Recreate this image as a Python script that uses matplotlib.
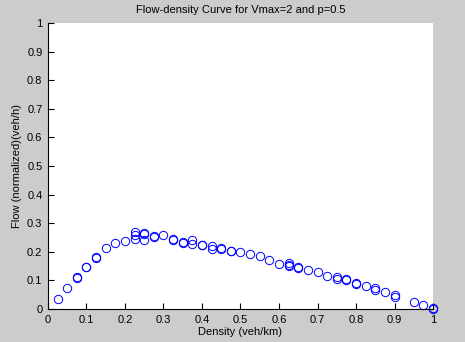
import matplotlib
matplotlib.use("Agg")
from matplotlib import pyplot as plt

# simulated flow vs. density, several runs overlaid
density = [0.025, 0.05, 0.075, 0.075, 0.1, 0.1, 0.125, 0.125, 0.15, 0.175,
           0.2, 0.225, 0.225, 0.225, 0.25, 0.25, 0.25, 0.275, 0.275, 0.3,
           0.325, 0.325, 0.35, 0.35, 0.375, 0.375, 0.4, 0.4, 0.425, 0.425,
           0.45, 0.45, 0.475, 0.475, 0.5, 0.525, 0.55, 0.575, 0.6, 0.625,
           0.625, 0.625, 0.65, 0.65, 0.675, 0.7, 0.725, 0.75, 0.75, 0.775,
           0.775, 0.8, 0.8, 0.825, 0.85, 0.85, 0.875, 0.9, 0.9, 0.95,
           0.975, 1.0, 1.0]
flow = [0.035, 0.074, 0.110, 0.112, 0.146, 0.148, 0.180, 0.182, 0.213, 0.230,
        0.239, 0.271, 0.258, 0.246, 0.266, 0.261, 0.240, 0.252, 0.255, 0.260,
        0.246, 0.243, 0.236, 0.231, 0.240, 0.229, 0.225, 0.223, 0.222, 0.209,
        0.213, 0.209, 0.204, 0.202, 0.199, 0.193, 0.185, 0.173, 0.159, 0.161,
        0.150, 0.155, 0.145, 0.147, 0.135, 0.129, 0.117, 0.111, 0.104, 0.102,
        0.104, 0.091, 0.087, 0.082, 0.075, 0.066, 0.060, 0.048, 0.043, 0.025,
        0.013, 0.001, 0.003]

xticks = [0, 0.1, 0.2, 0.3, 0.4, 0.5, 0.6, 0.7, 0.8, 0.9, 1]
yticks = [0, 0.1, 0.2, 0.3, 0.4, 0.5, 0.6, 0.7, 0.8, 0.9, 1]

plt.rcParams['font.family'] = ['Liberation Sans', 'DejaVu Sans']
plt.rcParams['font.size'] = 8

fig = plt.figure(figsize=(4.65, 3.42), dpi=100, facecolor='#cccccc')
ax = fig.add_axes([0.1032, 0.0965, 0.828, 0.836])
ax.set_facecolor('white')

ax.plot(density, flow, 'o', markerfacecolor='none', markeredgecolor='#0000ff',
        markersize=6, markeredgewidth=0.7, linestyle='none', clip_on=False)

ax.set_xlim(0, 1)
ax.set_ylim(0, 1)
ax.set_xticks(xticks)
ax.set_yticks(yticks)
ax.set_xticklabels([f"{t:g}" for t in xticks])
ax.set_yticklabels([f"{t:g}" for t in yticks])
ax.tick_params(direction='in', length=4, width=0.8, colors='black', labelsize=8, pad=4)

for side in ('top', 'right'):
    ax.spines[side].set_visible(False)
for side in ('left', 'bottom'):
    ax.spines[side].set_linewidth(0.8)

ax.set_title('Flow-density Curve for Vmax=2 and p=0.5', fontsize=8, pad=7)
ax.set_xlabel('Density (veh/km)', fontsize=8, labelpad=2)
ax.set_ylabel('Flow (normalized)(veh/h)', fontsize=8, labelpad=4)

fig.savefig('out.png', dpi=100, facecolor=fig.get_facecolor())
